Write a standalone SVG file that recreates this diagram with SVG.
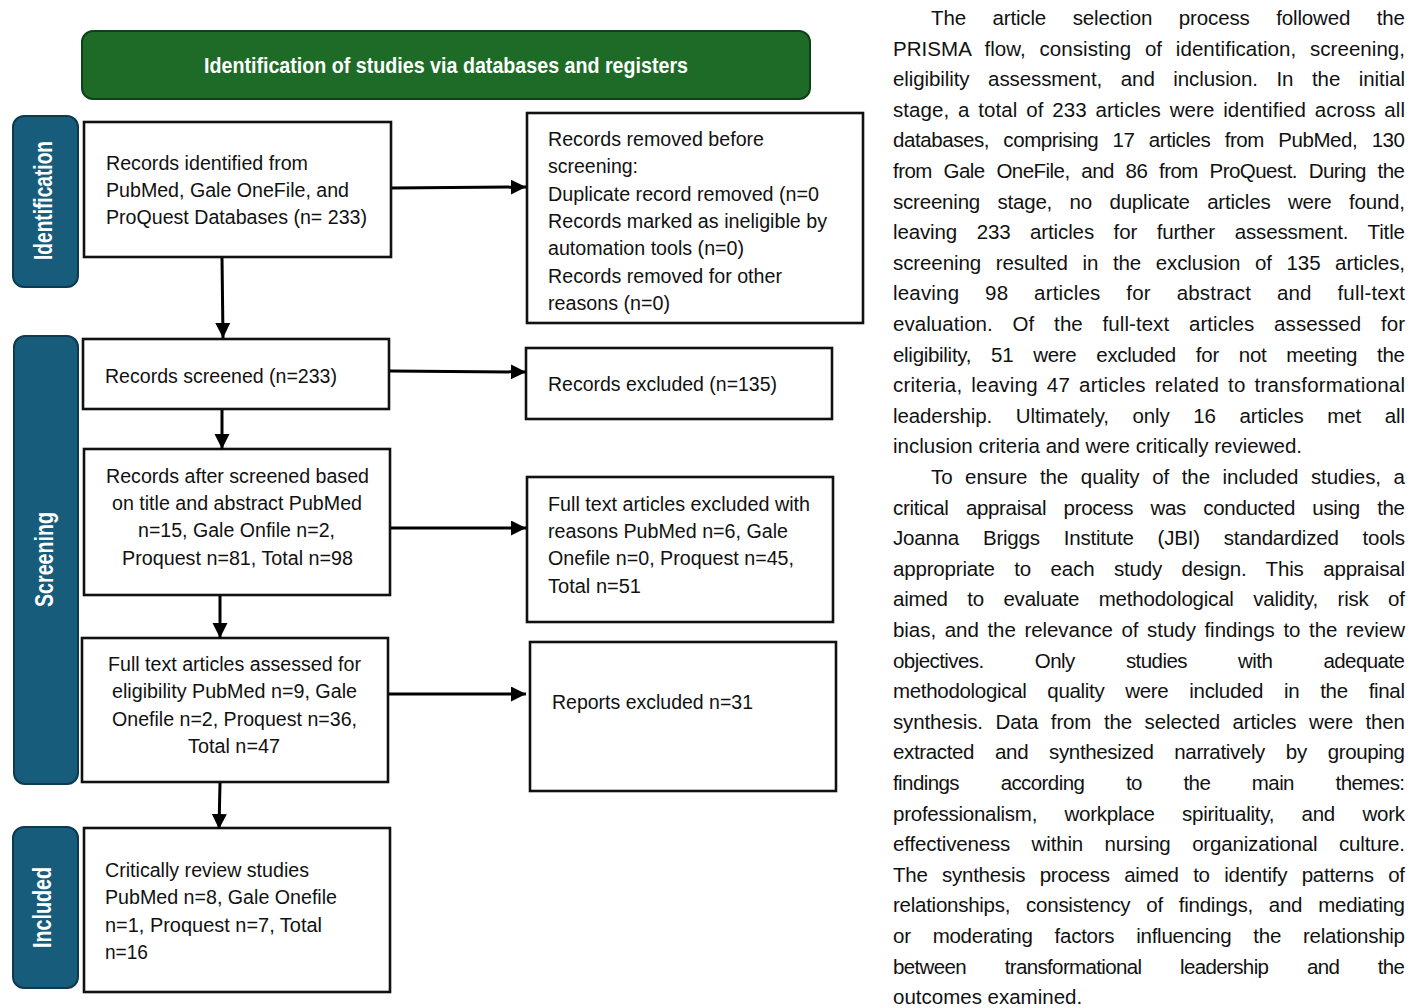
<svg xmlns="http://www.w3.org/2000/svg" width="1423" height="1008" viewBox="0 0 1423 1008">
<defs>
<style>
.box{fill:#fff;stroke:#111;stroke-width:2.6}
.side{fill:#185c7c;stroke:#0d3a4f;stroke-width:2}
.ban{fill:#1e6b28;stroke:#10401a;stroke-width:2}
.t{font-family:"Liberation Sans",Arial,sans-serif;font-size:20px;fill:#111}
.wb{font-family:"Liberation Sans",Arial,sans-serif;font-weight:bold;fill:#fff}
.p{font-family:"Liberation Sans",Arial,sans-serif;font-size:20.5px;fill:#111}
.c{stroke:#000;stroke-width:3;fill:none}
</style>
<marker id="ah" markerUnits="userSpaceOnUse" markerWidth="16" markerHeight="16" refX="15" refY="7.5" orient="auto">
<path d="M0,0 L15,7.5 L0,15 z" fill="#000"/>
</marker>
</defs>
<rect width="1423" height="1008" fill="#fff"/>

<g id="banner">
<rect class="ban" x="82" y="31" width="728" height="68" rx="11"/>
<text class="wb" x="204" y="73" font-size="22" textLength="484" lengthAdjust="spacingAndGlyphs">Identification of studies via databases and registers</text>
</g>

<g id="lbl-identification">
<rect class="side" x="13" y="116" width="65" height="171" rx="11"/>
<text class="wb" font-size="25" transform="translate(52,260) rotate(-90)" textLength="119" lengthAdjust="spacingAndGlyphs">Identification</text>
</g>
<g id="lbl-screening">
<rect class="side" x="14" y="336" width="64" height="448" rx="11"/>
<text class="wb" font-size="25" transform="translate(53,607) rotate(-90)" textLength="95" lengthAdjust="spacingAndGlyphs">Screening</text>
</g>
<g id="lbl-included">
<rect class="side" x="13" y="827" width="65" height="161" rx="11"/>
<text class="wb" font-size="25" transform="translate(51,948) rotate(-90)" textLength="81" lengthAdjust="spacingAndGlyphs">Included</text>
</g>

<g id="n-identified">
<rect class="box" x="84" y="122" width="307" height="135"/>
<text class="t" x="106" y="170" textLength="202" lengthAdjust="spacingAndGlyphs">Records identified from</text>
<text class="t" x="106" y="197" textLength="243" lengthAdjust="spacingAndGlyphs">PubMed, Gale OneFile, and</text>
<text class="t" x="106" y="224" textLength="261" lengthAdjust="spacingAndGlyphs">ProQuest Databases (n= 233)</text>
</g>

<g id="n-removed">
<rect class="box" x="527" y="113" width="336" height="210"/>
<text class="t" x="548" y="146" textLength="216" lengthAdjust="spacingAndGlyphs">Records removed before</text>
<text class="t" x="548" y="173" textLength="90" lengthAdjust="spacingAndGlyphs">screening:</text>
<text class="t" x="548" y="201" textLength="271" lengthAdjust="spacingAndGlyphs">Duplicate record removed (n=0</text>
<text class="t" x="548" y="228" textLength="279" lengthAdjust="spacingAndGlyphs">Records marked as ineligible by</text>
<text class="t" x="548" y="255" textLength="196" lengthAdjust="spacingAndGlyphs">automation tools (n=0)</text>
<text class="t" x="548" y="283" textLength="234" lengthAdjust="spacingAndGlyphs">Records removed for other</text>
<text class="t" x="548" y="310" textLength="122" lengthAdjust="spacingAndGlyphs">reasons (n=0)</text>
</g>

<g id="n-screened">
<rect class="box" x="83" y="339" width="306" height="70"/>
<text class="t" x="105" y="383" textLength="232" lengthAdjust="spacingAndGlyphs">Records screened (n=233)</text>
</g>

<g id="n-excluded">
<rect class="box" x="526" y="348" width="306" height="71"/>
<text class="t" x="548" y="391" textLength="229" lengthAdjust="spacingAndGlyphs">Records excluded (n=135)</text>
</g>

<g id="n-after">
<rect class="box" x="84" y="449" width="306" height="146"/>
<text class="t" x="106" y="483" textLength="263" lengthAdjust="spacingAndGlyphs">Records after screened based</text>
<text class="t" x="112" y="510" textLength="250" lengthAdjust="spacingAndGlyphs">on title and abstract PubMed</text>
<text class="t" x="138" y="537" textLength="197" lengthAdjust="spacingAndGlyphs">n=15, Gale Onfile n=2,</text>
<text class="t" x="122" y="565" textLength="231" lengthAdjust="spacingAndGlyphs">Proquest n=81, Total n=98</text>
</g>

<g id="n-ftexcluded">
<rect class="box" x="527" y="477" width="306" height="145"/>
<text class="t" x="548" y="511" textLength="262" lengthAdjust="spacingAndGlyphs">Full text articles excluded with</text>
<text class="t" x="548" y="538" textLength="240" lengthAdjust="spacingAndGlyphs">reasons PubMed n=6, Gale</text>
<text class="t" x="548" y="565" textLength="246" lengthAdjust="spacingAndGlyphs">Onefile n=0, Proquest n=45,</text>
<text class="t" x="548" y="593" textLength="93" lengthAdjust="spacingAndGlyphs">Total n=51</text>
</g>

<g id="n-assessed">
<rect class="box" x="82" y="638" width="306" height="144"/>
<text class="t" x="108" y="671" textLength="253" lengthAdjust="spacingAndGlyphs">Full text articles assessed for</text>
<text class="t" x="112" y="698" textLength="245" lengthAdjust="spacingAndGlyphs">eligibility PubMed n=9, Gale</text>
<text class="t" x="112" y="726" textLength="245" lengthAdjust="spacingAndGlyphs">Onefile n=2, Proquest n=36,</text>
<text class="t" x="188" y="753" textLength="92" lengthAdjust="spacingAndGlyphs">Total n=47</text>
</g>

<g id="n-reports">
<rect class="box" x="530" y="642" width="306" height="149"/>
<text class="t" x="552" y="709" textLength="201" lengthAdjust="spacingAndGlyphs">Reports excluded n=31</text>
</g>

<g id="n-included">
<rect class="box" x="84" y="828" width="306" height="164"/>
<text class="t" x="105" y="877" textLength="204" lengthAdjust="spacingAndGlyphs">Critically review studies</text>
<text class="t" x="105" y="904" textLength="232" lengthAdjust="spacingAndGlyphs">PubMed n=8, Gale Onefile</text>
<text class="t" x="105" y="932" textLength="217" lengthAdjust="spacingAndGlyphs">n=1, Proquest n=7, Total</text>
<text class="t" x="105" y="959" textLength="43" lengthAdjust="spacingAndGlyphs">n=16</text>
</g>

<g id="connectors">
<line class="c" x1="392" y1="188" x2="526" y2="187" marker-end="url(#ah)"/>
<line class="c" x1="222" y1="258" x2="223" y2="338" marker-end="url(#ah)"/>
<line class="c" x1="390" y1="371" x2="526" y2="372" marker-end="url(#ah)"/>
<line class="c" x1="222" y1="410" x2="222" y2="449" marker-end="url(#ah)"/>
<line class="c" x1="391" y1="528" x2="526" y2="528" marker-end="url(#ah)"/>
<line class="c" x1="220" y1="596" x2="220" y2="638" marker-end="url(#ah)"/>
<line class="c" x1="389" y1="694" x2="526" y2="694" marker-end="url(#ah)"/>
<line class="c" x1="220" y1="783" x2="219" y2="829" marker-end="url(#ah)"/>
</g>

<g id="paragraph">
<text class="p" x="931" y="25" word-spacing="21" textLength="474" lengthAdjust="spacing">The article selection process followed the</text>
<text class="p" x="893" y="55.6" word-spacing="8" textLength="512" lengthAdjust="spacing">PRISMA flow, consisting of identification, screening,</text>
<text class="p" x="893" y="86.2" word-spacing="13" textLength="512" lengthAdjust="spacing">eligibility assessment, and inclusion. In the initial</text>
<text class="p" x="893" y="116.8" word-spacing="3" textLength="512" lengthAdjust="spacing">stage, a total of 233 articles were identified across all</text>
<text class="p" x="893" y="147.4" word-spacing="9" textLength="512" lengthAdjust="spacing">databases, comprising 17 articles from PubMed, 130</text>
<text class="p" x="893" y="178" word-spacing="6.5" textLength="512" lengthAdjust="spacing">from Gale OneFile, and 86 from ProQuest. During the</text>
<text class="p" x="893" y="208.6" word-spacing="12" textLength="512" lengthAdjust="spacing">screening stage, no duplicate articles were found,</text>
<text class="p" x="893" y="239.2" word-spacing="14" textLength="512" lengthAdjust="spacing">leaving 233 articles for further assessment. Title</text>
<text class="p" x="893" y="269.8" word-spacing="9" textLength="512" lengthAdjust="spacing">screening resulted in the exclusion of 135 articles,</text>
<text class="p" x="893" y="300.4" word-spacing="20" textLength="512" lengthAdjust="spacing">leaving 98 articles for abstract and full-text</text>
<text class="p" x="893" y="331" word-spacing="14" textLength="512" lengthAdjust="spacing">evaluation. Of the full-text articles assessed for</text>
<text class="p" x="893" y="361.6" word-spacing="14.5" textLength="512" lengthAdjust="spacing">eligibility, 51 were excluded for not meeting the</text>
<text class="p" x="893" y="392.2" word-spacing="3" textLength="512" lengthAdjust="spacing">criteria, leaving 47 articles related to transformational</text>
<text class="p" x="893" y="422.8" word-spacing="18" textLength="512" lengthAdjust="spacing">leadership. Ultimately, only 16 articles met all</text>
<text class="p" x="893" y="453.4">inclusion criteria and were critically reviewed.</text>
<text class="p" x="931" y="484" word-spacing="7" textLength="474" lengthAdjust="spacing">To ensure the quality of the included studies, a</text>
<text class="p" x="893" y="514.6" word-spacing="12" textLength="512" lengthAdjust="spacing">critical appraisal process was conducted using the</text>
<text class="p" x="893" y="545.2" word-spacing="18.5" textLength="512" lengthAdjust="spacing">Joanna Briggs Institute (JBI) standardized tools</text>
<text class="p" x="893" y="575.8" word-spacing="14" textLength="512" lengthAdjust="spacing">appropriate to each study design. This appraisal</text>
<text class="p" x="893" y="606.4" word-spacing="14" textLength="512" lengthAdjust="spacing">aimed to evaluate methodological validity, risk of</text>
<text class="p" x="893" y="637" word-spacing="3" textLength="512" lengthAdjust="spacing">bias, and the relevance of study findings to the review</text>
<text class="p" x="893" y="667.6" word-spacing="46" textLength="512" lengthAdjust="spacing">objectives. Only studies with adequate</text>
<text class="p" x="893" y="698.2" word-spacing="15.5" textLength="512" lengthAdjust="spacing">methodological quality were included in the final</text>
<text class="p" x="893" y="728.8" word-spacing="7" textLength="512" lengthAdjust="spacing">synthesis. Data from the selected articles were then</text>
<text class="p" x="893" y="759.4" word-spacing="15.5" textLength="512" lengthAdjust="spacing">extracted and synthesized narratively by grouping</text>
<text class="p" x="893" y="790" word-spacing="36.5" textLength="512" lengthAdjust="spacing">findings according to the main themes:</text>
<text class="p" x="893" y="820.6" word-spacing="22" textLength="512" lengthAdjust="spacing">professionalism, workplace spirituality, and work</text>
<text class="p" x="893" y="851.2" word-spacing="16" textLength="512" lengthAdjust="spacing">effectiveness within nursing organizational culture.</text>
<text class="p" x="893" y="881.8" word-spacing="9" textLength="512" lengthAdjust="spacing">The synthesis process aimed to identify patterns of</text>
<text class="p" x="893" y="912.4" word-spacing="10.5" textLength="512" lengthAdjust="spacing">relationships, consistency of findings, and mediating</text>
<text class="p" x="893" y="943" word-spacing="16.5" textLength="512" lengthAdjust="spacing">or moderating factors influencing the relationship</text>
<text class="p" x="893" y="973.6" word-spacing="33.5" textLength="512" lengthAdjust="spacing">between transformational leadership and the</text>
<text class="p" x="893" y="1004.2">outcomes examined.</text>
</g>
</svg>
